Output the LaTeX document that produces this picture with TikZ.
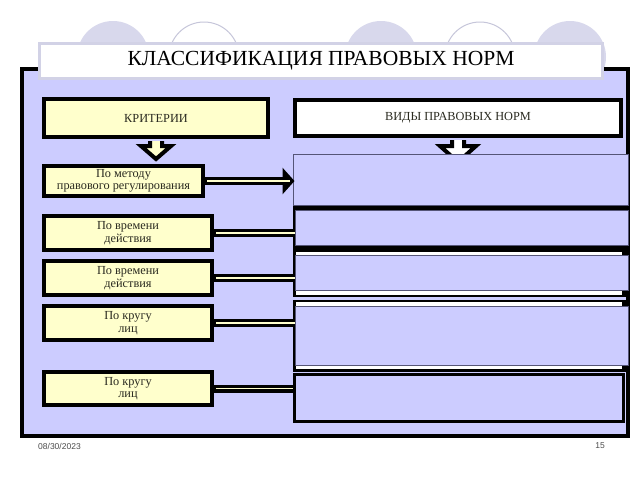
\documentclass[tikz,border=0pt]{standalone}
\usepackage{fontspec}
\setmainfont{Liberation Serif}
\newfontfamily\footfont{Liberation Sans}
\usetikzlibrary{calc,arrows.meta}
\definecolor{lav}{HTML}{CCCCFF}
\definecolor{pale}{HTML}{FFFFCC}
\definecolor{bumpc}{HTML}{D8D8EC}
\definecolor{bumpline}{HTML}{C6C6DA}
\definecolor{tborder}{HTML}{D2D2E6}
\definecolor{rline}{HTML}{555577}
\definecolor{txt}{HTML}{2A2A20}
\tikzset{
  critbox/.style={draw=black, line width=4pt, fill=pale, inner sep=0pt, align=center,
    text=txt, font=\fontsize{12.3}{12.5}\selectfont},
  headbox/.style={draw=black, line width=4pt, inner sep=0pt, align=center,
    text=txt, font=\fontsize{12.3}{12.5}\selectfont},
  rbox/.style={draw=rline, line width=1pt, fill=lav, inner sep=0pt},
  barrow/.style={draw=black, line width=4pt, line join=miter},
  conn/.style={draw=black, line width=8pt, postaction={draw=pale, line width=1.3pt, shorten <=2pt}},
  footer/.style={font=\footfont\fontsize{8.5}{10}\selectfont, text=black!70, inner sep=0pt}
}
\begin{document}
\begin{tikzpicture}[x=1pt,y=-1pt]
\useasboundingbox (0,0) rectangle (640,480);
\fill[white] (0,0) rectangle (640,480);
% bumps
\fill[bumpc] (113,57) circle (36pt);
\filldraw[fill=white, draw=bumpline, line width=1pt] (204,57) circle (35pt);
\fill[bumpc] (381,57) circle (36pt);
\filldraw[fill=white, draw=bumpline, line width=1pt] (480,57) circle (35pt);
\fill[bumpc] (570,57) circle (36pt);
% frame
\draw[line width=4pt, fill=lav] (22,68.5) rectangle (628,436);
% title
\node[draw=tborder, line width=3pt, fill=white, inner sep=0pt,
      minimum width=563pt, minimum height=35pt,
      font=\fontsize{21.5}{24}\selectfont] (title) at (321,61) {КЛАССИФИКАЦИЯ ПРАВОВЫХ НОРМ};
% header boxes
\node[critbox, minimum width=224pt, minimum height=38pt] (crit) at (156,118) {КРИТЕРИИ};
\node[headbox, fill=white, minimum width=326pt, minimum height=36pt] (vid) at (458,118) {ВИДЫ ПРАВОВЫХ НОРМ};
% left boxes
\node[critbox, minimum width=159pt, minimum height=30pt] (L1) at (123.5,181) {По методу\\правового регулирования};
\node[critbox, minimum width=168pt, minimum height=34pt] (L2) at (128,233) {По времени\\действия};
\node[critbox, minimum width=168pt, minimum height=34pt] (L3) at (128,278) {По времени\\действия};
\node[critbox, minimum width=168pt, minimum height=34pt] (L4) at (128,323) {По кругу\\лиц};
\node[critbox, minimum width=168pt, minimum height=33pt] (L5) at (128,388.5) {По кругу\\лиц};
% arrow from ВИДЫ (under first right box)
\filldraw[barrow, fill=white]
  ($(vid.south)+(-6,2)$) -- ++(0,6) -- ++(-12,0) -- ($(vid.south)+(0,24)$)
  -- ($(vid.south)+(18,8)$) -- ++(-12,0) -- ++(0,-6);
% right column
\fill[black] (293,204) rectangle (628,249);
\fill[black] (293,249) rectangle (628,297);
\fill[white] (296,251.5) rectangle (622,255);
\fill[white] (296,290) rectangle (622,294.5);
\fill[black] (293,300) rectangle (628,372);
\fill[white] (296,302) rectangle (622,306);
\fill[white] (296,365) rectangle (622,369);
\node[rbox, minimum width=335pt, minimum height=51pt] (R1) at (460.5,179.5) {};
\node[rbox, minimum width=333pt, minimum height=35pt] (R2) at (461.5,227.5) {};
\node[rbox, minimum width=333pt, minimum height=35pt] (R3) at (461.5,272.5) {};
\node[rbox, minimum width=333pt, minimum height=59pt] (R4) at (461.5,335.5) {};
\node[rbox, draw=black, line width=3pt, minimum width=329pt, minimum height=47pt] (R5) at (459,398) {};
% arrow from КРИТЕРИИ
\filldraw[barrow, fill=pale]
  ($(crit.south)+(-6,2)$) -- ++(0,5) -- ++(-9,0) -- ($(crit.south)+(0,20)$)
  -- ($(crit.south)+(15,7)$) -- ++(-9,0) -- ++(0,-5);
% connectors
\draw[line width=8pt, -{Triangle[width=26pt,length=12pt]}] (L1.east) -- ($(L1.east -| R1.west)+(2,0)$);
\draw[pale, line width=1.3pt, shorten <=2pt] (L1.east) -- ($(L1.east -| R1.west)+(-3,0)$);
\draw[conn] (L2.east) -- (L2.east -| R2.west);
\draw[conn] (L3.east) -- (L3.east -| R3.west);
\draw[conn] (L4.east) -- (L4.east -| R4.west);
\draw[conn] (L5.east) -- (L5.east -| R5.west);
% footer
\node[footer, anchor=west] (date) at (38,446) {08/30/2023};
\node[footer, anchor=east] (page) at (605,446) {15};
\end{tikzpicture}
\end{document}
